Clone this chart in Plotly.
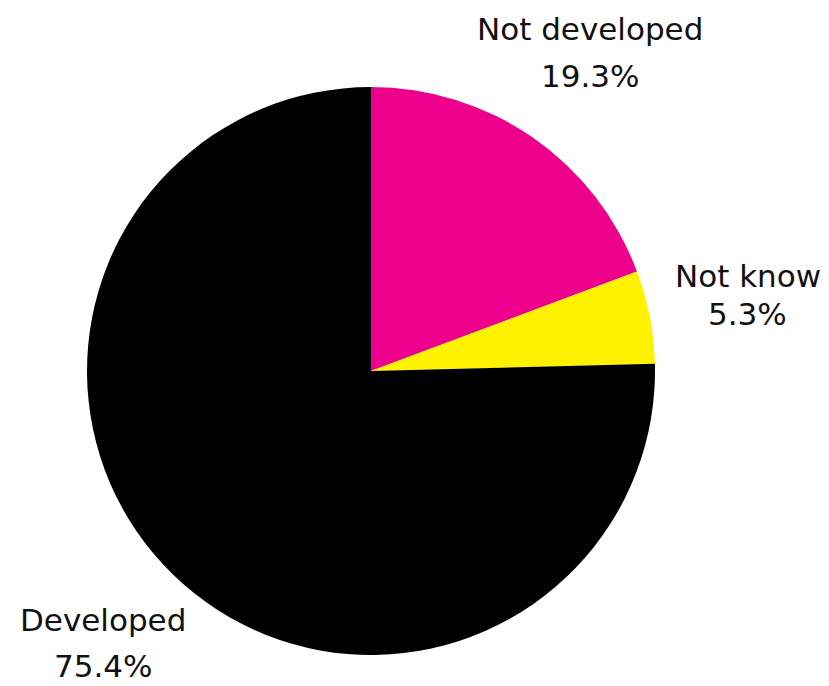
import math
import plotly.graph_objects as go

# Survey answers and their shares (%)
labels = ["Not developed", "Not know", "Developed"]
shares = [19.3, 5.3, 75.4]
colors = ["#EC008C", "#FFF200", "#000000"]

W, H = 829, 686
cx, cy, R = 371, 371, 284      # pie centre and radius in pixels
label_r = 384                  # radius at which the slice labels sit
line_gaps = [47, 38, 46]       # vertical distance between name and value lines
FONT = dict(family="DejaVu Sans", size=31, color="#111111")

fig = go.Figure(go.Pie(
    labels=labels,
    values=shares,
    marker=dict(colors=colors, line=dict(width=0)),
    sort=False,
    direction="clockwise",
    rotation=0,
    textinfo="none",
    hoverinfo="label+percent",
    domain=dict(x=[(cx - R) / W, (cx + R) / W],
                y=[1 - (cy + R) / H, 1 - (cy - R) / H]),
))

# Place each label along the middle angle of its slice: name above, share below
total = sum(shares)
start = 0.0
annotations = []
for lab, v, gap in zip(labels, shares, line_gaps):
    mid = (start + v / 2) / total * 2 * math.pi
    start += v
    px = cx + label_r * math.sin(mid)
    py = cy - label_r * math.cos(mid) - 3
    for text, dy in ((lab, -gap / 2), (f"{v:.1f}%", gap / 2)):
        annotations.append(dict(
            x=px / W, y=1 - (py + dy) / H, xref="paper", yref="paper",
            text=text, showarrow=False,
            xanchor="center", yanchor="middle", align="center",
            font=FONT,
        ))

fig.update_layout(
    width=W, height=H,
    margin=dict(l=0, r=0, t=0, b=0),
    paper_bgcolor="white",
    showlegend=False,
    annotations=annotations,
)

fig.write_html("out.html")
